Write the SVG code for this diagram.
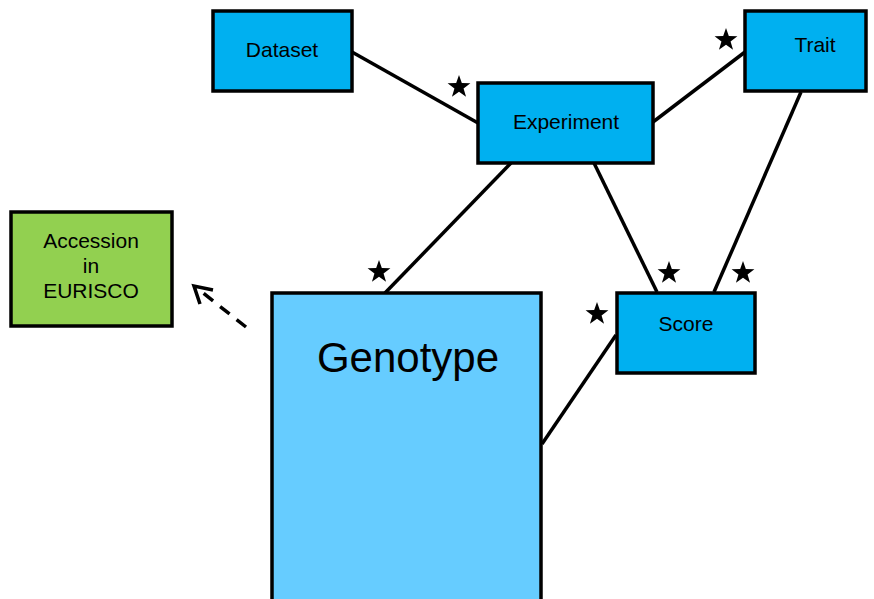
<svg xmlns="http://www.w3.org/2000/svg" width="874" height="599" viewBox="0 0 874 599">
<style>
.box{stroke:#000;stroke-width:3.5}
.blue{fill:#00B0F0}
.lt{fill:#66CCFF}
.grn{fill:#92D050}
.lbl{font-family:"Liberation Sans",Arial,sans-serif;font-size:21px;fill:#000;text-anchor:middle}
.conn line{stroke:#000;stroke-width:3.5}
</style>
<defs>
<polygon id="star" points="0,-12 2.82,-3.88 11.41,-3.71 4.56,1.48 7.05,9.71 0,4.8 -7.05,9.71 -4.56,1.48 -11.41,-3.71 -2.82,-3.88" fill="#000"/>
</defs>
<rect width="874" height="599" fill="#fff"/>
<g class="conn">
<line x1="352" y1="52" x2="478" y2="123"/>
<line x1="653" y1="122" x2="745" y2="52"/>
<line x1="801" y1="92" x2="714" y2="292"/>
<line x1="594" y1="163" x2="657" y2="292"/>
<line x1="511" y1="163" x2="385" y2="293"/>
<line x1="616" y1="335" x2="542" y2="444"/>
<line x1="246" y1="327" x2="198" y2="289" stroke-dasharray="12,9"/>
<polyline points="200,304 194,286 213,290" fill="none" stroke="#000" stroke-width="3.5"/>
</g>
<g id="stars">
<use href="#star" x="459" y="87"/>
<use href="#star" x="726" y="40"/>
<use href="#star" x="379" y="272"/>
<use href="#star" x="669" y="273"/>
<use href="#star" x="743" y="273"/>
<use href="#star" x="597" y="314"/>
</g>
<g id="dataset"><rect class="box blue" x="213" y="11" width="139" height="80"/><text class="lbl" x="282" y="57">Dataset</text></g>
<g id="experiment"><rect class="box blue" x="478" y="83" width="175" height="80"/><text class="lbl" x="566" y="129">Experiment</text></g>
<g id="trait"><rect class="box blue" x="745" y="11" width="121" height="80"/><text class="lbl" x="815" y="52">Trait</text></g>
<g id="score"><rect class="box blue" x="617" y="293" width="138" height="80"/><text class="lbl" x="686" y="331">Score</text></g>
<g id="accession"><rect class="box grn" x="11" y="212" width="161" height="114"/><text class="lbl" x="91" y="248">Accession</text><text class="lbl" x="91" y="273">in</text><text class="lbl" x="91" y="298">EURISCO</text></g>
<g id="genotype"><rect class="box lt" x="272" y="293" width="269" height="320"/><text class="lbl" x="408" y="372" style="font-size:42px">Genotype</text></g>
</svg>
